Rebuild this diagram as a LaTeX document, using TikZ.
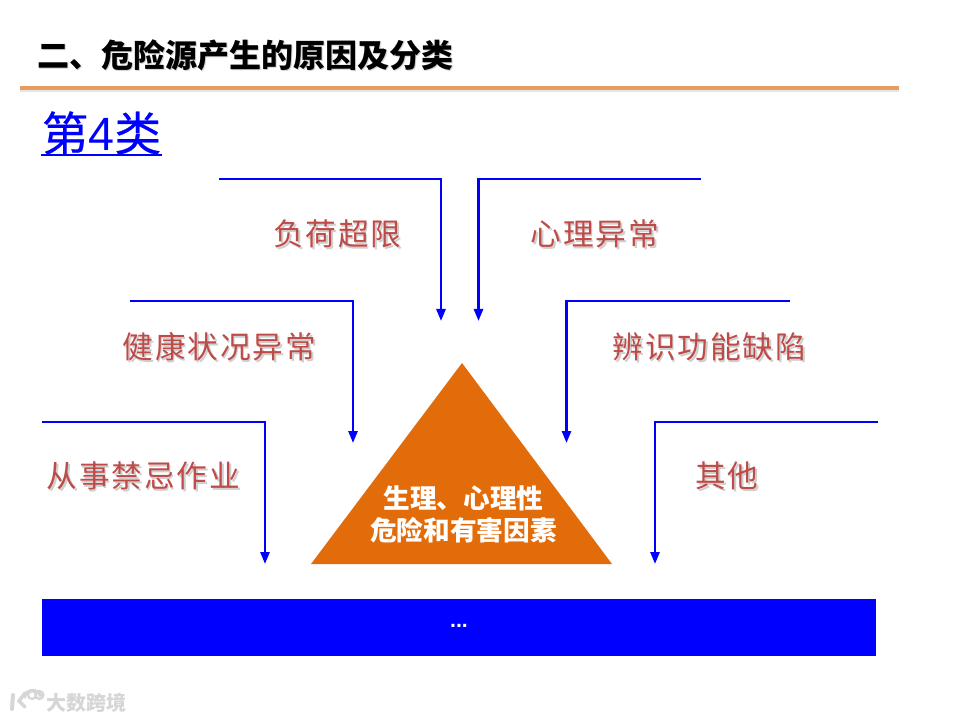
\documentclass[tikz,border=0pt]{standalone}
\usepackage{fontspec}
\usepackage{xcolor}
\usetikzlibrary{arrows.meta}
\setmainfont{Liberation Sans}
\newfontfamily\cjk{Noto Sans CJK SC}
\newfontfamily\cjkspaced[LetterSpace=6]{Noto Sans CJK SC}
\newfontfamily\cjkmedium[FakeBold=0.5]{Noto Sans CJK SC}
\definecolor{rulecol}{HTML}{E59C5F}
\definecolor{orangefill}{HTML}{E36C0A}
\definecolor{redtext}{HTML}{BE4B48}
\definecolor{redshade}{HTML}{CFCFCF}
\definecolor{wmark}{HTML}{D6D6D6}
\newcommand{\shadowtext}[1]{\leavevmode\rlap{\raisebox{-1.4pt}{\kern1.2pt\textcolor{redshade}{#1}}}\textcolor{redtext}{#1}}
\tikzset{
  connector/.style={draw=blue,line width=1.8pt,-{Triangle[length=9pt,width=6.8pt]}},
  redlabel/.style={inner sep=0pt,font=\cjkspaced\fontsize{23}{26}\selectfont},
  tritext/.style={inner sep=0pt,text=white,font=\cjk\bfseries\fontsize{20}{24}\selectfont},
}
\begin{document}
\begin{tikzpicture}[x=0.75pt,y=-0.75pt]
\useasboundingbox (0,0) rectangle (960,720);
\fill[white] (0,0) rectangle (960,720);
% title
\node[anchor=center,inner sep=0pt,font=\cjk\bfseries\fontsize{24}{28}\selectfont] (title) at (245,56)
  {\rlap{\raisebox{-0.9pt}{\kern0.9pt\textcolor{black!18}{二、危险源产生的原因及分类}}}二、危险源产生的原因及分类};
\coordinate (ruleL) at (20,88);
\coordinate (ruleR) at (899,88);
\draw[black!10,line width=2.5pt] ([yshift=-2pt]ruleL) -- ([yshift=-2pt]ruleR);
\draw[rulecol,line width=2.4pt] (ruleL) -- (ruleR);
% subtitle
\node[inner sep=0pt,text=blue,font=\fontsize{35}{40}\selectfont] (sub) at (101.5,133) {{\cjkmedium 第}4{\cjkmedium 类}};
\coordinate (subL) at (41,155.5);
\coordinate (subR) at (162,155.5);
\draw[blue,line width=1.5pt] (subL) -- (subR);
% labels
\node[redlabel] (l1) at (337.5,234.5) {\shadowtext{负荷超限}};
\node[redlabel] (l2) at (595,234.5) {\shadowtext{心理异常}};
\node[redlabel] (l3) at (219.5,347.5) {\shadowtext{健康状况异常}};
\node[redlabel] (l4) at (709.5,347.5) {\shadowtext{辨识功能缺陷}};
\node[redlabel] (l5) at (143.5,476.5) {\shadowtext{从事禁忌作业}};
\node[redlabel] (l6) at (727,476.5) {\shadowtext{其他}};
% connectors
\coordinate (a1s) at (219,179); \coordinate (a1c) at (441,179); \coordinate (a1e) at (441,321);
\coordinate (a2s) at (701,179); \coordinate (a2c) at (478.5,179); \coordinate (a2e) at (478.5,321);
\coordinate (a3s) at (130,301); \coordinate (a3c) at (353,301); \coordinate (a3e) at (353,443);
\coordinate (a4s) at (790,301); \coordinate (a4c) at (566.5,301); \coordinate (a4e) at (566.5,443);
\coordinate (a5s) at (42,422);  \coordinate (a5c) at (265,422); \coordinate (a5e) at (265,564);
\coordinate (a6s) at (878,422); \coordinate (a6c) at (655,422); \coordinate (a6e) at (655,564);
\foreach \i in {1,...,6} \draw[connector] (a\i s) -- (a\i c) -- (a\i e);
% triangle
\fill[orangefill] (462,363) -- (612,564) -- (311,564) -- cycle;
\node[tritext] (t1) at (463.5,498) {生理、心理性};
\node[tritext] (t2) at (463.5,530) {危险和有害因素};
% bar
\node[fill=blue,minimum width=625.5pt,minimum height=42.75pt,inner sep=0pt,anchor=north west] (bar) at (42,599) {};
\node[inner sep=0pt,anchor=base,text=white,font=\bfseries\fontsize{16}{18}\selectfont] (dots) at (459,627) {...};
% watermark
\draw[wmark,line width=3pt,line cap=round] (13,695) -- (12,709);
\draw[wmark,line width=2.6pt,line cap=round] (25,693) -- (19,701) -- (25,707);
\draw[wmark,line width=2.6pt] (24,698) arc[start angle=190,end angle=340,radius=9];
\draw[wmark,line width=1.6pt] (32,695) circle[radius=4];
\draw[wmark,line width=1.6pt] (39.5,695) circle[radius=4];
\node[inner sep=0pt,text=wmark,font=\cjk\bfseries\fontsize{15}{18}\selectfont] (wm) at (86,702.5) {大数跨境};
\end{tikzpicture}
\end{document}
